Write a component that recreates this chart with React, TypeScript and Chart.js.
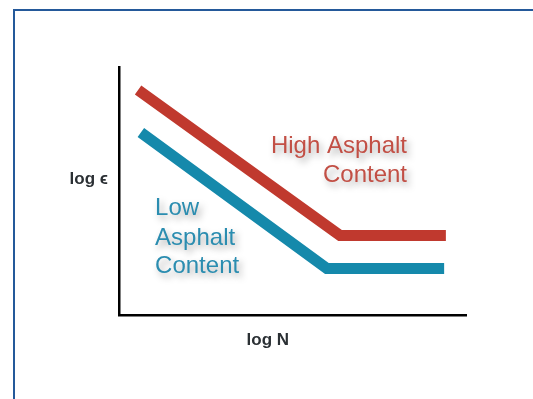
import React, { useEffect, useRef } from "react";
import { Chart, registerables } from "chart.js";

Chart.register(...registerables);

// Data (arbitrary units on log axes, 0..100)
const highX = [5.5, 63.7, 94.2];
const highY = [90.7, 32.1, 32.1];
const lowX = [6.3, 59.9, 93.7];
const lowY = [73.6, 18.75, 18.75];

const highLabelLines = ["High Asphalt", "Content"];
const highLabelX = 83.0;
const highLabelY = [65.3, 53.6];
const lowLabelLines = ["Low", "Asphalt", "Content"];
const lowLabelX = 10.4;
const lowLabelY = [40.3, 28.2, 16.9];

const xAxisLabel = "log N";
const yAxisLabel = "log ϵ";

const RED = "#c0392e";
const BLUE = "#1589ab";
const RED_TEXT = "#c24f45";
const BLUE_TEXT = "#2b8db0";

const textPlugin = {
  id: "annotText",
  afterDraw(chart: any) {
    const { ctx, scales } = chart;
    const xs = scales.x;
    const ys = scales.y;
    ctx.save();
    ctx.textBaseline = "alphabetic";
    ctx.shadowColor = "rgba(0,0,0,0.35)";
    ctx.shadowBlur = 7;
    ctx.shadowOffsetX = 3;
    ctx.shadowOffsetY = 4;
    ctx.font = "24px 'Liberation Sans', Arial, sans-serif";
    ctx.fillStyle = RED_TEXT;
    ctx.textAlign = "right";
    highLabelLines.forEach((t, i) => {
      ctx.fillText(t, xs.getPixelForValue(highLabelX), ys.getPixelForValue(highLabelY[i]));
    });
    ctx.fillStyle = BLUE_TEXT;
    ctx.textAlign = "left";
    lowLabelLines.forEach((t, i) => {
      ctx.fillText(t, xs.getPixelForValue(lowLabelX), ys.getPixelForValue(lowLabelY[i]));
    });
    ctx.shadowColor = "rgba(0,0,0,0)";
    ctx.shadowBlur = 0;
    ctx.shadowOffsetX = 0;
    ctx.shadowOffsetY = 0;
    ctx.font = "bold 17px 'Liberation Sans', Arial, 'DejaVu Sans', sans-serif";
    ctx.fillStyle = "#2b3034";
    ctx.textAlign = "center";
    ctx.fillText(xAxisLabel, xs.getPixelForValue(42.9), ys.getPixelForValue(-12.1));
    ctx.textAlign = "right";
    ctx.fillText(yAxisLabel, xs.getPixelForValue(-3.2), ys.getPixelForValue(52.8));
    ctx.restore();
  },
};

export default function App() {
  const ref = useRef<HTMLCanvasElement | null>(null);
  useEffect(() => {
    if (!ref.current) return;
    const chart = new Chart(ref.current, {
      type: "line",
      data: {
        datasets: [
          {
            label: "High Asphalt Content",
            data: highX.map((x, i) => ({ x, y: highY[i] })),
            borderColor: RED,
            borderWidth: 11,
            borderCapStyle: "butt",
            borderJoinStyle: "miter",
            pointRadius: 0,
            tension: 0,
            fill: false,
          },
          {
            label: "Low Asphalt Content",
            data: lowX.map((x, i) => ({ x, y: lowY[i] })),
            borderColor: BLUE,
            borderWidth: 11,
            borderCapStyle: "butt",
            borderJoinStyle: "miter",
            pointRadius: 0,
            tension: 0,
            fill: false,
          },
        ],
      },
      options: {
        responsive: false,
        animation: false,
        events: [],
        layout: { padding: { left: 119, right: 67, top: 67, bottom: 84 } },
        plugins: { legend: { display: false }, tooltip: { enabled: false }, title: { display: false } },
        scales: {
          x: {
            type: "linear",
            min: 0,
            max: 100,
            grid: { display: false, drawTicks: false },
            ticks: { display: false },
            border: { display: true, color: "#000", width: 2.5 },
          },
          y: {
            type: "linear",
            min: 0,
            max: 100,
            grid: { display: false, drawTicks: false },
            ticks: { display: false },
            border: { display: true, color: "#000", width: 2.5 },
          },
        },
      },
      plugins: [textPlugin],
    } as any);
    return () => chart.destroy();
  }, []);
  return (
    <div style={{ position: "absolute", left: 0, top: 0, width: 533, height: 399, background: "#fff", overflow: "hidden" }}>
      <div
        style={{
          position: "absolute",
          left: 13,
          top: 9,
          width: 600,
          height: 500,
          border: "2px solid #24599a",
        }}
      />
      <canvas ref={ref} width={533} height={399} style={{ position: "absolute", left: 0, top: 0 }} />
    </div>
  );
}
